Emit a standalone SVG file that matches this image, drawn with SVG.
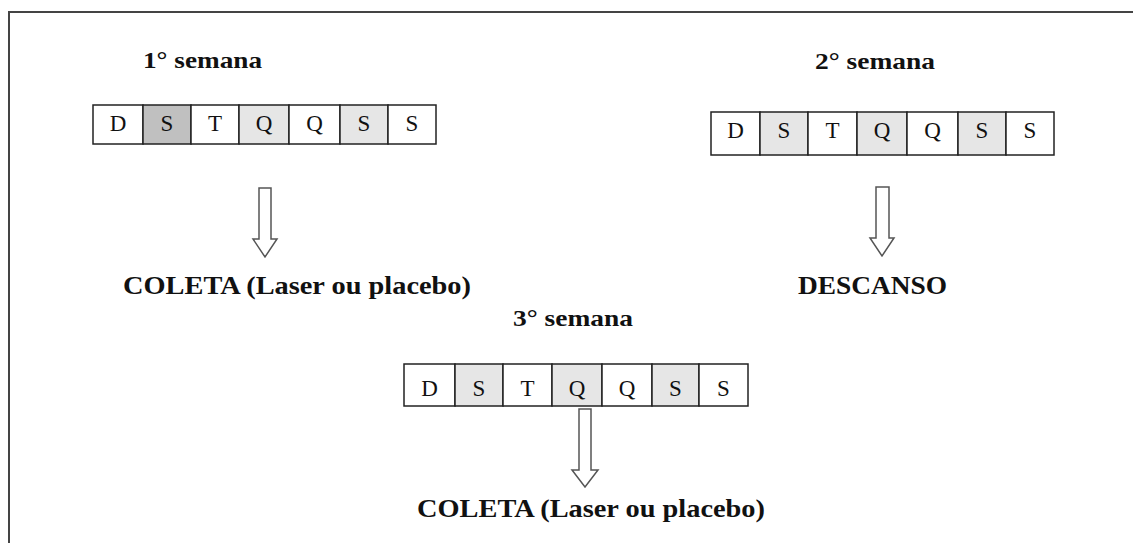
<svg xmlns="http://www.w3.org/2000/svg" width="1133" height="543" viewBox="0 0 1133 543">
<style>
.bg{fill:#ffffff}
.frame{fill:none;stroke:#444;stroke-width:2}
.cell{stroke:#222;stroke-width:1.5}
.w{fill:#ffffff}
.l{fill:#e6e6e6}
.d{fill:#c0c0c0}
.ct{font-family:"Liberation Serif",serif;font-size:23px;fill:#111;text-anchor:middle}
.tt{font-family:"Liberation Serif",serif;font-size:23px;font-weight:bold;fill:#111}
.lb{font-family:"Liberation Serif",serif;font-size:25px;font-weight:bold;fill:#111}
.arr{fill:#ffffff;stroke:#555;stroke-width:1.5;stroke-linejoin:miter}
</style>
<rect class="bg" x="0" y="0" width="1133" height="543"/>
<path class="frame" d="M9,543 V12 H1133"/>

<g id="week1">
<text class="tt" x="143" y="68" textLength="119" lengthAdjust="spacingAndGlyphs">1° semana</text>
<rect class="cell w" x="93" y="105" width="50" height="39"/>
<rect class="cell d" x="143" y="105" width="48" height="39"/>
<rect class="cell w" x="191" y="105" width="48" height="39"/>
<rect class="cell l" x="239" y="105" width="50" height="39"/>
<rect class="cell w" x="289" y="105" width="51" height="39"/>
<rect class="cell l" x="340" y="105" width="48" height="39"/>
<rect class="cell w" x="388" y="105" width="48" height="39"/>
<text class="ct" x="118" y="131">D</text>
<text class="ct" x="167" y="131">S</text>
<text class="ct" x="215" y="131">T</text>
<text class="ct" x="264" y="131">Q</text>
<text class="ct" x="314.5" y="131">Q</text>
<text class="ct" x="364" y="131">S</text>
<text class="ct" x="412" y="131">S</text>
</g>

<g id="week2">
<text class="tt" x="815" y="69" textLength="120" lengthAdjust="spacingAndGlyphs">2° semana</text>
<rect class="cell w" x="711" y="112" width="49" height="43"/>
<rect class="cell l" x="760" y="112" width="48" height="43"/>
<rect class="cell w" x="808" y="112" width="49" height="43"/>
<rect class="cell l" x="857" y="112" width="50" height="43"/>
<rect class="cell w" x="907" y="112" width="51" height="43"/>
<rect class="cell l" x="958" y="112" width="48" height="43"/>
<rect class="cell w" x="1006" y="112" width="48" height="43"/>
<text class="ct" x="735.5" y="138">D</text>
<text class="ct" x="784" y="138">S</text>
<text class="ct" x="832.5" y="138">T</text>
<text class="ct" x="882" y="138">Q</text>
<text class="ct" x="932.5" y="138">Q</text>
<text class="ct" x="982" y="138">S</text>
<text class="ct" x="1030" y="138">S</text>
</g>

<g id="week3">
<text class="tt" x="513" y="326" textLength="120" lengthAdjust="spacingAndGlyphs">3° semana</text>
<rect class="cell w" x="404" y="364" width="51" height="42"/>
<rect class="cell l" x="455" y="364" width="48" height="42"/>
<rect class="cell w" x="503" y="364" width="49" height="42"/>
<rect class="cell l" x="552" y="364" width="50" height="42"/>
<rect class="cell w" x="602" y="364" width="50" height="42"/>
<rect class="cell l" x="652" y="364" width="47" height="42"/>
<rect class="cell w" x="699" y="364" width="49" height="42"/>
<text class="ct" x="429.5" y="396">D</text>
<text class="ct" x="479" y="396">S</text>
<text class="ct" x="527.5" y="396">T</text>
<text class="ct" x="577" y="396">Q</text>
<text class="ct" x="627" y="396">Q</text>
<text class="ct" x="675.5" y="396">S</text>
<text class="ct" x="723.5" y="396">S</text>
</g>

<g id="label1">
<text class="lb" x="123" y="294" textLength="348" lengthAdjust="spacingAndGlyphs">COLETA (Laser ou placebo)</text>
</g>
<g id="label2">
<text class="lb" x="798" y="294" textLength="149" lengthAdjust="spacingAndGlyphs">DESCANSO</text>
</g>
<g id="label3">
<text class="lb" x="417" y="517" textLength="348" lengthAdjust="spacingAndGlyphs">COLETA (Laser ou placebo)</text>
</g>

<g id="connectors">
<path class="arr" d="M259,188 H271 V239 H277 L265,257 L253,239 H259 Z"/>
<path class="arr" d="M876,187 H889 V238 H894 L882,256 L870,238 H876 Z"/>
<path class="arr" d="M579,409 H591 V470 H598 L585,487 L572,470 H579 Z"/>
</g>
</svg>
